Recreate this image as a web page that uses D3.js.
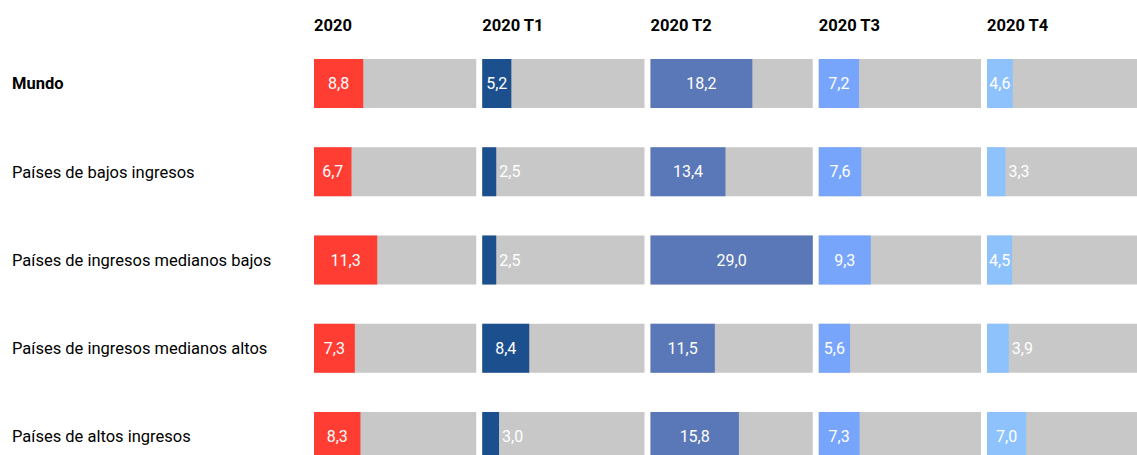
<!DOCTYPE html>
<html><head><meta charset="utf-8">
<script src="https://cdn.jsdelivr.net/npm/d3@7"></script>
<style>
html,body{margin:0;padding:0;background:#fff;overflow:hidden}
text{font-family:Roboto,"Liberation Sans",sans-serif}
</style></head>
<body>
<script>
const rows = ["Mundo","Países de bajos ingresos","Países de ingresos medianos bajos","Países de ingresos medianos altos","Países de altos ingresos"];
const periods = ["2020","2020 T1","2020 T2","2020 T3","2020 T4"];
const v2020 = [8.8, 6.7, 11.3, 7.3, 8.3];
const vT1   = [5.2, 2.5, 2.5, 8.4, 3.0];
const vT2   = [18.2, 13.4, 29.0, 11.5, 15.8];
const vT3   = [7.2, 7.6, 9.3, 5.6, 7.3];
const vT4   = [4.6, 3.3, 4.5, 3.9, 7.0];
const seriesValues = [v2020, vT1, vT2, vT3, vT4];
const colors = ["#ff3d33","#1c4f8e","#5a78b7","#78a5fc","#8ec2fd"];
const maxValue = 29;

const W = 1137, H = 455;
const svg = d3.select("body").append("svg").attr("width", W).attr("height", H);

const y = d3.scaleBand().domain(rows).range([59, 461]).paddingInner(0.445).paddingOuter(0);
const col = d3.scaleBand().domain(periods).range([314, 1149.25]).paddingInner(0.0357).paddingOuter(0);
const x = d3.scaleLinear().domain([0, maxValue]).range([0, col.bandwidth()]);

// headers
svg.selectAll("text.hdr").data(periods).join("text")
  .attr("class","hdr")
  .attr("x", d => col(d))
  .attr("y", 31)
  .attr("font-size", 16.5).attr("font-weight", "bold").attr("fill", "#000")
  .text(d => d);

// row labels
svg.selectAll("text.rl").data(rows).join("text")
  .attr("class","rl")
  .attr("x", 12)
  .attr("y", d => y(d) + y.bandwidth()/2)
  .attr("dy", "0.35em")
  .attr("font-size", 16.5)
  .attr("font-weight", (d,i) => i === 0 ? "bold" : "normal")
  .attr("fill", "#000")
  .text(d => d);

const cells = [];
periods.forEach((p, pi) => rows.forEach((r, ri) => cells.push({p, r, v: seriesValues[pi][ri], c: colors[pi]})));

const g = svg.selectAll("g.cell").data(cells).join("g").attr("class","cell")
  .attr("transform", d => `translate(${col(d.p)},${y(d.r)})`);

g.append("rect").attr("width", col.bandwidth()).attr("height", y.bandwidth()).attr("fill", "#c8c8c8");
g.append("rect").attr("width", d => x(d.v)).attr("height", y.bandwidth()).attr("fill", d => d.c);
g.append("text")
  .attr("y", y.bandwidth()/2).attr("dy", "0.35em")
  .attr("font-size", 16).attr("fill", "#fff")
  .text(d => d3.format(".1f")(d.v).replace(".", ","))
  .each(function(d){
    const tw = this.getComputedTextLength();
    const bw = x(d.v);
    const t = d3.select(this);
    if (bw >= tw + 4) {
      t.attr("x", bw/2).attr("text-anchor", "middle");
    } else {
      t.attr("x", bw + 3).attr("text-anchor", "start");
    }
  });
</script>
</body></html>
